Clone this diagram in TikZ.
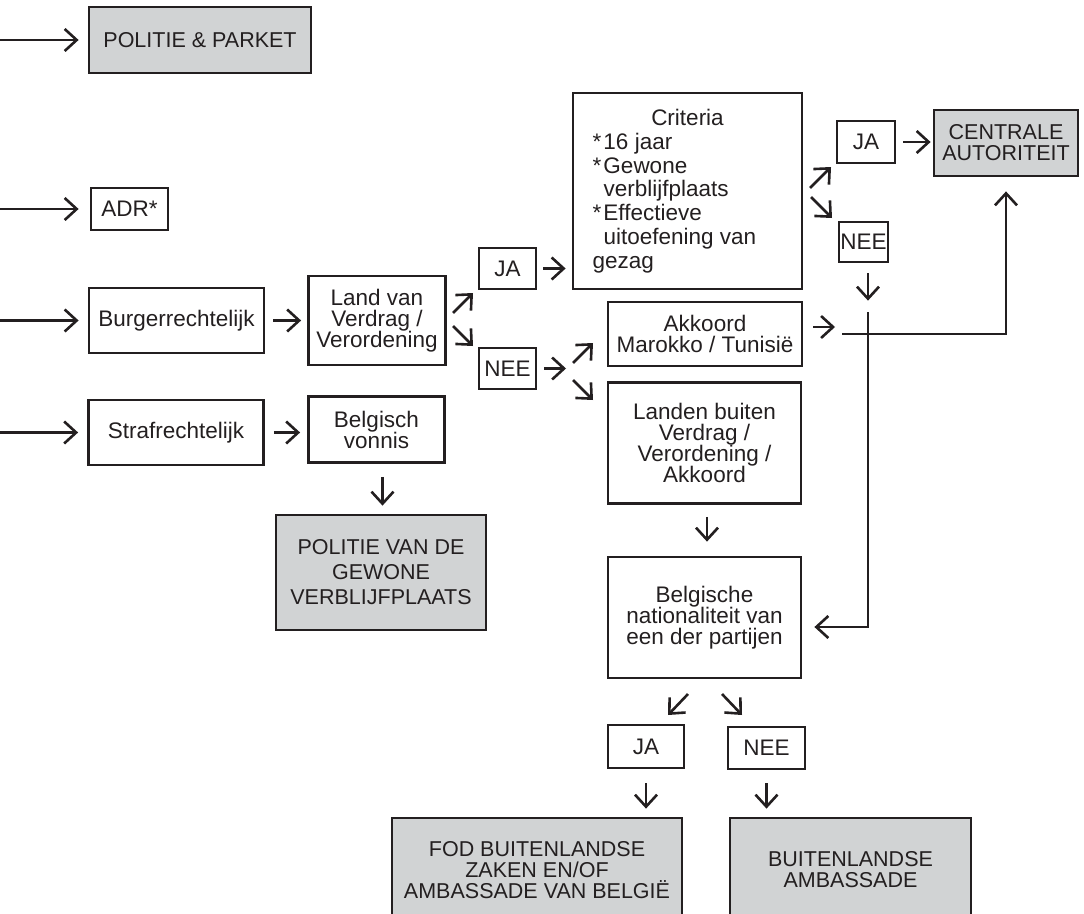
\documentclass[tikz,border=0pt]{standalone}
\usepackage{fontspec}
\setmainfont{Liberation Sans}
\usetikzlibrary{arrows.meta}
\definecolor{ink}{HTML}{231F20}
\definecolor{boxgray}{HTML}{D1D3D4}
\begin{document}
\begin{tikzpicture}[x=1pt,y=-1pt,
  box/.style={draw=ink, line width=2.8pt, text=ink, inner sep=0pt, align=center,
    font=\fontsize{22.5}{21}\selectfont},
  gbox/.style={box, fill=boxgray, font=\fontsize{21.5}{21}\selectfont},
  arr/.style={draw=ink, line width=2.6pt, -{Straight Barb[length=12pt,width=22pt]}},
  plain/.style={draw=ink, line width=2.6pt}]
\path[use as bounding box] (0,0) rectangle (1084,913);
\clip (0,0) rectangle (1084,913);

% boxes
\node[gbox, minimum width=222pt, minimum height=66pt] (pp) at (200,40) {POLITIE \& PARKET};
\node[box, minimum width=77pt, minimum height=42pt] (adr) at (129.5,209) {ADR*};
\node[box, minimum width=175pt, minimum height=65pt] (burg) at (176.5,320.5) {Burgerrechtelijk};
\node[box, minimum width=175pt, minimum height=65pt] (straf) at (176,432.5) {Strafrechtelijk};
\node[box, minimum width=137pt, minimum height=89pt] (land) at (377,320.5) {Land van\\Verdrag /\\Verordening};
\node[box, minimum width=136pt, minimum height=66pt] (vonnis) at (376.5,429.5) {Belgisch\\vonnis};
\node[gbox, minimum width=210pt, minimum height=115pt, font=\fontsize{21.5}{25}\selectfont] (pvdg) at (381,572.5) {POLITIE VAN DE\\GEWONE\\VERBLIJFPLAATS};
\node[box, minimum width=57pt, minimum height=41pt] (ja1) at (507.5,268.5) {JA};
\node[box, minimum width=57pt, minimum height=41pt] (nee1) at (507.5,368.5) {NEE};
\node[box, minimum width=229pt, minimum height=196pt] (crit) at (687.5,191) {\raisebox{-5pt}{\parbox{190pt}{\fontsize{22.5}{23.8}\selectfont
  \centering Criteria\par
  \raggedright
  \makebox[11pt][l]{*}16 jaar\\
  \makebox[11pt][l]{*}Gewone\\
  \hspace*{11pt}verblijfplaats\\
  \makebox[11pt][l]{*}Effectieve\\
  \hspace*{11pt}uitoefening van\\
  gezag\par}}};
\node[box, minimum width=194pt, minimum height=64pt] (akk) at (705,334) {Akkoord\\Marokko / Tunisië};
\node[box, minimum width=193pt, minimum height=121pt] (land2) at (704.5,443) {Landen buiten\\Verdrag /\\Verordening /\\Akkoord};
\node[box, minimum width=193pt, minimum height=121pt] (bnat) at (704.5,617.5) {Belgische\\nationaliteit van\\een der partijen};
\node[box, minimum width=58pt, minimum height=42pt] (ja2) at (866,142) {JA};
\node[box, minimum width=49pt, minimum height=40pt] (nee2) at (863.5,242) {NEE};
\node[gbox, minimum width=144pt, minimum height=66pt] (ca) at (1006,143) {CENTRALE\\AUTORITEIT};
\node[box, minimum width=76pt, minimum height=43pt] (ja3) at (646,746.5) {JA};
\node[box, minimum width=77pt, minimum height=42pt] (nee3) at (766.5,748) {NEE};
\node[gbox, minimum width=290pt, minimum height=104pt] (fod) at (537,870) {FOD BUITENLANDSE\\ZAKEN EN/OF\\AMBASSADE VAN BELGIË};
\node[gbox, minimum width=241pt, minimum height=104pt] (ba) at (850.5,870) {BUITENLANDSE\\AMBASSADE};

% free ends
\coordinate (s1) at (0,40);
\coordinate (s2) at (0,209);
\coordinate (s3) at (0,320.5);
\coordinate (s4) at (0,432.5);
\coordinate (d1a) at (453,313); \coordinate (d1b) at (473,293);
\coordinate (d2a) at (453,326); \coordinate (d2b) at (473,346);
\coordinate (n1) at (566,368.5);
\coordinate (d3a) at (573,363); \coordinate (d3b) at (593,343);
\coordinate (d4a) at (573,380); \coordinate (d4b) at (593,400);
\coordinate (d5a) at (810,188); \coordinate (d5b) at (831,167);
\coordinate (d6a) at (811,197); \coordinate (d6b) at (832,218);
\coordinate (a1) at (835,327);
\coordinate (a2) at (842,334);
\coordinate (v1) at (868,312);
\coordinate (v2) at (868,627);
\coordinate (d7a) at (688,694); \coordinate (d7b) at (668,715);
\coordinate (d8a) at (722,694); \coordinate (d8b) at (742,715);

% connectors
\draw[arr, shorten >=9pt] (s1) -- (pp.west);
\draw[arr, shorten >=11pt] (s2) -- (adr.west);
\draw[arr, shorten >=9pt] (s3) -- (burg.west);
\draw[arr, shorten >=9pt] (s4) -- (straf.west);
\draw[arr, shorten <=8pt, shorten >=6pt] (burg.east) -- (land.west);
\draw[arr, shorten <=9pt, shorten >=7pt] (straf.east) -- (straf.east -| vonnis.west);
\draw[arr, shorten <=13pt, shorten >=8pt] ([xshift=6pt]vonnis.south) -- ([xshift=6pt]vonnis.south |- pvdg.north);
\draw[arr] (d1a) -- (d1b);
\draw[arr] (d2a) -- (d2b);
\draw[arr, shorten <=6pt, shorten >=6pt] (ja1.east) -- (ja1.east -| crit.west);
\draw[arr, shorten <=7pt] (nee1.east) -- (n1);
\draw[arr] (d3a) -- (d3b);
\draw[arr] (d4a) -- (d4b);
\draw[arr] (d5a) -- (d5b);
\draw[arr] (d6a) -- (d6b);
\draw[arr, shorten <=7pt, shorten >=2pt] (ja2.east) -- (ja2.east -| ca.west);
\draw[arr, shorten <=10pt] ([xshift=4.5pt]nee2.south) -- ([xshift=4.5pt]nee2.south |- akk.north);
\draw[arr, shorten <=10pt] ([yshift=7pt]akk.east) -- (a1);
\draw[arr, shorten >=14pt] (a2) -| (ca.south);
\draw[arr, shorten >=12pt] (v1) -- (v2) -- (v2 -| bnat.east);
\draw[arr, shorten <=12pt, shorten >=14pt] ([xshift=2.5pt]land2.south) -- ([xshift=2.5pt]bnat.north);
\draw[arr] (d7a) -- (d7b);
\draw[arr] (d8a) -- (d8b);
\draw[arr, shorten <=14pt, shorten >=8pt] (ja3.south) -- (ja3.south |- fod.north);
\draw[arr, shorten <=13pt, shorten >=8pt] (nee3.south) -- (nee3.south |- ba.north);
\end{tikzpicture}
\end{document}
